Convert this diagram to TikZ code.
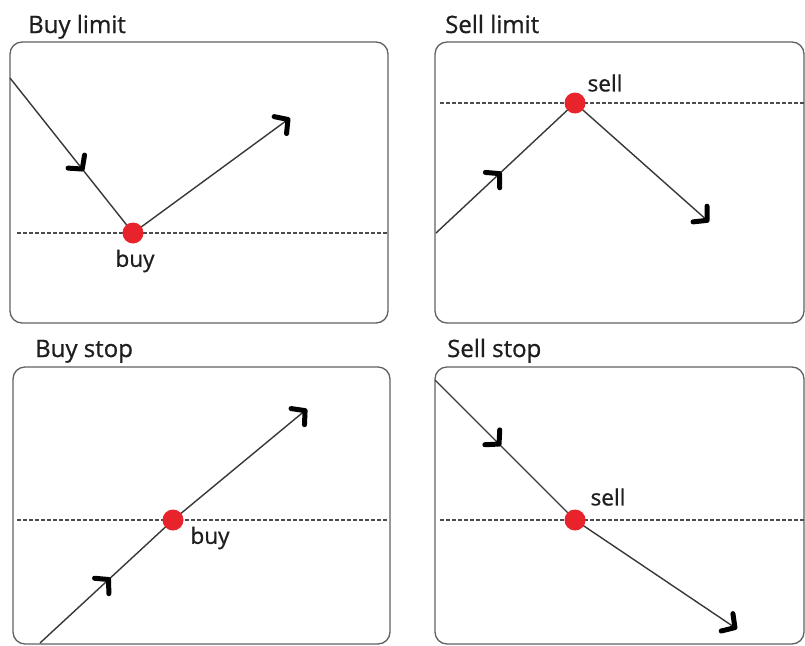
\documentclass[tikz,border=0pt]{standalone}
\usepackage{fontspec}
\setmainfont{Open Sans}[FakeBold=0.8]
\usetikzlibrary{arrows.meta,decorations.markings}
\definecolor{dotred}{HTML}{E8232B}
\definecolor{ink}{HTML}{1E1E1E}
\tikzset{
 frame/.style={draw=black!62, line width=1.3pt, rounded corners=12pt},
 level/.style={draw=black!70, dash pattern=on 4pt off 2pt, line width=1.1pt},
 price/.style={draw=black!78, line width=1.4pt},
 dotnode/.style={circle, fill=dotred, inner sep=0pt, minimum size=21pt},
 title/.style={font=\fontsize{24}{28}\selectfont, text=ink, anchor=base west, inner sep=0pt},
 lbl/.style={font=\fontsize{22.5}{26}\selectfont, text=ink, inner sep=0pt},
 barbtip/.tip={Straight Barb[length=9.5pt, width=21pt, line width=5pt, round, color=black]},
 midarrow/.style={postaction={decorate}, decoration={markings, mark=at position #1 with {\arrow{barbtip}}}},
}
\begin{document}
\begin{tikzpicture}[x=1pt,y=-1pt]
\useasboundingbox[fill=white] (0,0) rectangle (805,645);

% ---------- Buy limit ----------
\draw[frame] (10,42) rectangle (388,323);
\node[title] (t1) at (28,33) {Buy limit};
\coordinate (a1) at (10,78);
\coordinate (p1) at (133,233);
\coordinate (b1) at (290,118);
\coordinate (ls1) at (17,233);
\coordinate (le1) at (388,233);
\draw[level] (ls1) -- (le1);
\draw[price, midarrow=0.6] (a1) -- (p1);
\draw[price, -{barbtip}] (p1) -- (b1);
\node[dotnode] (d1) at (p1) {};
\node[lbl] (l1) at (135,261) {buy};

% ---------- Sell limit ----------
\draw[frame] (435,42) rectangle (804,323);
\node[title] (t2) at (445,33) {Sell limit};
\coordinate (a2) at (436,233);
\coordinate (p2) at (575,103);
\coordinate (b2) at (709,222);
\coordinate (ls2) at (440,103);
\coordinate (le2) at (804,103);
\draw[level] (ls2) -- (le2);
\draw[price, midarrow=0.47] (a2) -- (p2);
\draw[price, -{barbtip}] (p2) -- (b2);
\node[dotnode] (d2) at (p2) {};
\node[lbl] (l2) at (605,83) {sell};

% ---------- Buy stop ----------
\draw[frame] (13,367) rectangle (390,644);
\node[title] (t3) at (35,357) {Buy stop};
\coordinate (a3) at (40,643);
\coordinate (p3) at (173,520);
\coordinate (b3) at (307,409);
\coordinate (ls3) at (17,520);
\coordinate (le3) at (387,520);
\draw[level] (ls3) -- (le3);
\draw[price, midarrow=0.53] (a3) -- (p3);
\draw[price, -{barbtip}] (p3) -- (b3);
\node[dotnode] (d3) at (p3) {};
\node[lbl] (l3) at (210,538) {buy};

% ---------- Sell stop ----------
\draw[frame] (435,367) rectangle (804,644);
\node[title] (t4) at (447,357) {Sell stop};
\coordinate (a4) at (435,380);
\coordinate (p4) at (575,520);
\coordinate (b4) at (737,629);
\coordinate (ls4) at (440,520);
\coordinate (le4) at (804,520);
\draw[level] (ls4) -- (le4);
\draw[price, midarrow=0.47] (a4) -- (p4);
\draw[price, -{barbtip}] (p4) -- (b4);
\node[dotnode] (d4) at (p4) {};
\node[lbl] (l4) at (608,497) {sell};
\end{tikzpicture}
\end{document}
